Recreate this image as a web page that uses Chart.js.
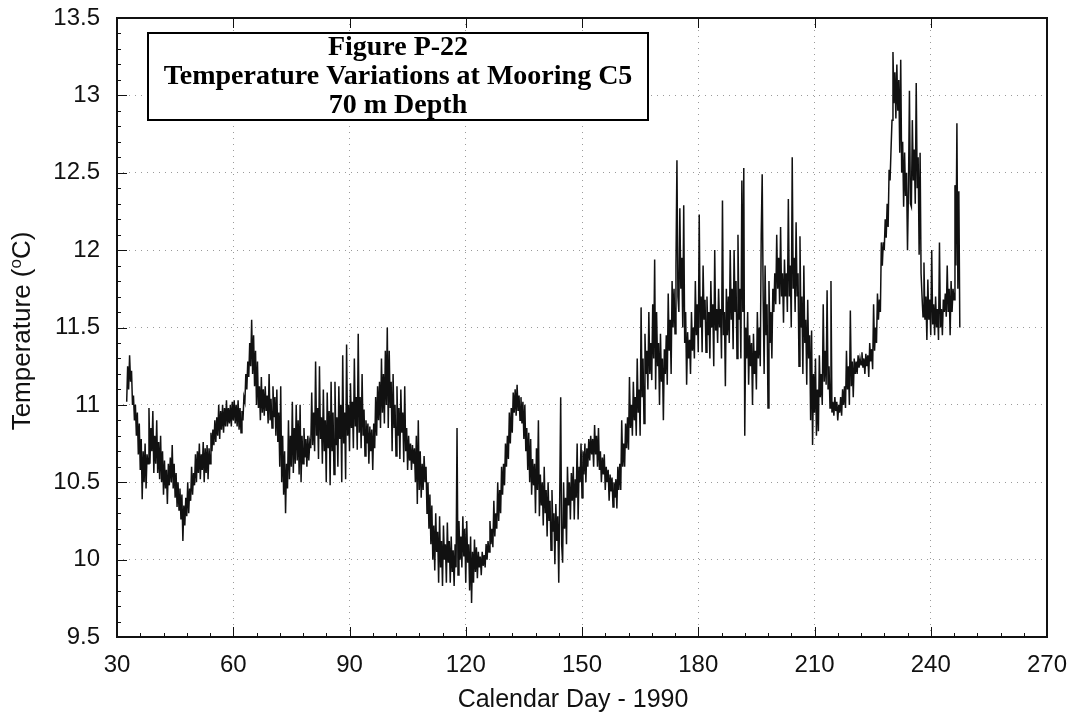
<!DOCTYPE html>
<html>
<head>
<meta charset="utf-8">
<script src="https://cdn.jsdelivr.net/npm/chart.js@4.4.1/dist/chart.umd.min.js"></script>
<style>
  html, body { margin: 0; padding: 0; background: #fff; }
  #wrap { width: 1075px; height: 726px; }
</style>
</head>
<body>
<div id="wrap"><canvas id="tempChart" width="1075" height="726"></canvas></div>
<script>
// Mooring C5, 70 m: quarter-day samples starting on day 32.5 (12 per row = 3 days)
const firstDay = 32.5;
const dayStep = 0.25;
const temps = [
  11.02, 11.25, 11.10, 11.32, 11.15, 11.22, 11.00, 11.06, 10.90, 11.00, 10.80, 10.95,
  10.68, 10.88, 10.58, 10.78, 10.39, 10.70, 10.50, 10.75, 10.46, 10.68, 10.62, 10.98,
  10.62, 10.85, 10.70, 10.96, 10.56, 10.80, 10.62, 10.90, 10.56, 10.76, 10.52, 10.80,
  10.50, 10.70, 10.42, 10.64, 10.46, 10.58, 10.36, 10.62, 10.48, 10.66, 10.50, 10.74,
  10.46, 10.62, 10.40, 10.56, 10.34, 10.50, 10.32, 10.46, 10.26, 10.42, 10.12, 10.35,
  10.22, 10.40, 10.28, 10.50, 10.30, 10.46, 10.38, 10.60, 10.42, 10.56, 10.48, 10.68,
  10.50, 10.70, 10.56, 10.75, 10.52, 10.68, 10.58, 10.76, 10.50, 10.72, 10.56, 10.74,
  10.52, 10.72, 10.62, 10.82, 10.70, 10.84, 10.74, 10.90, 10.76, 10.92, 10.80, 11.00,
  10.78, 10.96, 10.84, 11.00, 10.82, 10.98, 10.86, 11.03, 10.86, 10.98, 10.88, 11.00,
  10.86, 11.02, 10.90, 11.03, 10.88, 11.00, 10.86, 11.03, 10.84, 10.98, 10.82, 10.96,
  10.90, 11.05, 11.02, 11.20, 11.10, 11.28, 11.18, 11.40, 11.25, 11.55, 11.20, 11.45,
  11.12, 11.35, 11.00, 11.28, 10.98, 11.12, 10.90, 11.18, 10.95, 11.10, 10.93, 11.12,
  10.96, 11.06, 10.88, 11.20, 10.90, 11.04, 10.85, 11.12, 10.92, 11.05, 10.80, 11.10,
  10.76, 10.95, 10.60, 11.12, 10.50, 10.80, 10.42, 10.70, 10.30, 10.62, 10.46, 10.90,
  10.52, 10.80, 10.60, 11.02, 10.56, 10.85, 10.62, 11.00, 10.64, 10.90, 10.55, 11.00,
  10.50, 10.80, 10.62, 10.85, 10.66, 10.78, 10.60, 10.80, 10.64, 10.76, 10.72, 11.08,
  10.74, 10.95, 10.70, 11.28, 10.80, 10.98, 10.65, 11.25, 10.78, 10.92, 10.62, 11.10,
  10.70, 10.90, 10.50, 11.08, 10.72, 10.96, 10.48, 11.15, 10.70, 10.95, 10.55, 11.15,
  10.74, 10.92, 10.60, 11.12, 10.78, 11.00, 10.50, 11.32, 10.75, 10.95, 10.52, 11.39,
  10.80, 11.00, 10.70, 11.14, 10.85, 11.02, 10.72, 11.30, 10.86, 11.05, 10.71, 11.46,
  10.82, 11.05, 10.72, 11.20, 10.80, 10.97, 10.67, 10.90, 10.75, 10.88, 10.62, 10.86,
  10.70, 10.84, 10.58, 10.88, 10.72, 11.05, 10.80, 11.12, 10.90, 11.15, 10.85, 11.30,
  10.95, 11.20, 10.88, 11.35, 11.00, 11.50, 10.85, 11.35, 10.98, 11.15, 10.70, 11.20,
  10.85, 11.00, 10.67, 11.12, 10.80, 10.98, 10.65, 11.10, 10.82, 10.95, 10.63, 11.12,
  10.70, 10.85, 10.58, 10.80, 10.64, 10.75, 10.58, 10.74, 10.62, 10.72, 10.50, 10.80,
  10.36, 10.90, 10.45, 10.70, 10.40, 10.62, 10.45, 10.67, 10.50, 10.60, 10.30, 10.50,
  10.20, 10.42, 10.10, 10.35, 10.00, 10.22, 9.93, 10.30, 10.05, 10.18, 9.85, 10.28,
  9.95, 10.12, 9.83, 10.22, 10.00, 10.10, 9.85, 10.24, 9.98, 10.12, 9.85, 10.15,
  9.92, 10.06, 9.83, 10.10, 9.95, 10.85, 9.90, 10.25, 10.00, 10.15, 9.95, 10.28,
  10.02, 10.20, 9.85, 10.25, 9.98, 10.10, 9.80, 10.15, 9.72, 10.05, 9.85, 10.13,
  9.92, 10.08, 9.88, 10.05, 9.95, 10.02, 9.90, 10.05, 9.96, 10.03, 9.95, 10.10,
  10.00, 10.12, 10.05, 10.25, 10.10, 10.20, 10.08, 10.38, 10.15, 10.30, 10.20, 10.50,
  10.25, 10.45, 10.30, 10.60, 10.42, 10.62, 10.48, 10.75, 10.60, 10.80, 10.65, 10.95,
  10.75, 10.98, 10.82, 11.08, 10.95, 11.10, 10.93, 11.13, 10.96, 11.06, 10.90, 11.05,
  10.88, 11.02, 10.78, 11.00, 10.70, 10.85, 10.58, 10.82, 10.50, 10.78, 10.42, 10.65,
  10.48, 10.62, 10.30, 10.72, 10.45, 10.90, 10.28, 10.55, 10.35, 10.50, 10.22, 10.60,
  10.30, 10.45, 10.15, 10.50, 10.25, 10.38, 10.06, 10.45, 10.18, 10.30, 9.97, 10.36,
  10.12, 10.28, 9.85, 10.40, 11.05, 10.10, 9.98, 10.50, 10.20, 10.40, 10.10, 10.60,
  10.35, 10.50, 10.26, 10.56, 10.38, 10.60, 10.26, 10.52, 10.40, 10.75, 10.26, 10.60,
  10.50, 10.75, 10.40, 10.70, 10.55, 10.75, 10.50, 10.72, 10.60, 10.78, 10.64, 10.80,
  10.68, 10.78, 10.60, 10.87, 10.68, 10.80, 10.60, 10.85, 10.58, 10.70, 10.50, 10.66,
  10.55, 10.68, 10.45, 10.60, 10.50, 10.58, 10.38, 10.55, 10.44, 10.53, 10.34, 10.50,
  10.40, 10.52, 10.33, 10.60, 10.45, 10.62, 10.45, 10.90, 10.60, 10.75, 10.60, 10.88,
  10.72, 10.92, 10.71, 11.18, 10.85, 11.00, 10.80, 11.15, 10.90, 11.05, 10.80, 11.30,
  10.95, 11.10, 10.80, 11.63, 11.05, 11.30, 10.88, 11.46, 11.20, 11.35, 11.10, 11.60,
  11.20, 11.40, 11.16, 11.65, 11.30, 11.94, 11.10, 11.60, 11.25, 11.40, 11.00, 11.46,
  11.15, 11.30, 10.90, 11.36, 11.20, 11.45, 11.13, 11.72, 11.35, 11.55, 11.20, 11.80,
  11.50, 11.75, 11.46, 11.90, 12.58, 11.70, 11.60, 12.27, 11.75, 11.95, 11.50, 12.29,
  11.40, 11.60, 11.13, 11.47, 11.30, 11.42, 11.20, 11.60, 11.35, 11.50, 11.30, 11.80,
  11.45, 11.65, 11.34, 12.23, 11.50, 11.70, 11.34, 11.90, 11.55, 11.68, 11.34, 11.70,
  11.45, 11.60, 11.30, 11.80, 11.50, 11.65, 11.25, 12.00, 11.48, 11.62, 11.40, 11.75,
  11.50, 11.62, 11.30, 12.32, 11.45, 11.60, 11.12, 11.75, 11.45, 11.70, 11.40, 12.00,
  11.55, 11.75, 11.36, 12.00, 11.60, 11.80, 11.30, 12.10, 11.55, 11.75, 11.30, 12.45,
  11.60, 12.53, 10.80, 11.50, 11.30, 11.60, 11.13, 11.45, 11.25, 11.40, 11.00, 11.46,
  11.20, 11.35, 11.10, 11.60, 11.30, 11.50, 11.25, 12.10, 12.49, 11.70, 11.20, 11.90,
  11.45, 11.65, 10.98, 11.80, 11.40, 11.60, 11.30, 11.75, 11.60, 11.85, 11.65, 12.10,
  11.75, 11.95, 11.65, 12.15, 11.70, 11.85, 11.53, 11.94, 11.70, 11.85, 11.60, 12.33,
  11.70, 11.90, 11.50, 12.60, 11.75, 11.95, 11.60, 12.18, 11.70, 11.85, 11.25, 12.09,
  11.50, 11.70, 11.20, 11.90, 11.40, 11.55, 11.13, 11.68, 11.30, 11.45, 10.90, 11.48,
  10.74, 11.20, 10.95, 11.30, 10.80, 11.10, 10.83, 11.32, 11.05, 11.20, 11.00, 11.65,
  11.15, 11.35, 11.13, 11.74, 11.10, 11.25, 10.98, 11.80, 10.95, 11.02, 10.93, 11.05,
  10.96, 11.02, 10.90, 11.00, 10.95, 11.05, 10.93, 11.10, 11.00, 11.12, 10.98, 11.35,
  11.10, 11.25, 11.00, 11.61, 11.12, 11.28, 11.05, 11.30, 11.20, 11.28, 11.20, 11.32,
  11.24, 11.30, 11.26, 11.34, 11.24, 11.30, 11.20, 11.33, 11.25, 11.32, 11.18, 11.40,
  11.28, 11.36, 11.23, 11.65, 11.35, 11.50, 11.40, 11.72, 11.55, 11.68, 11.60, 12.05,
  11.90, 12.05, 12.00, 12.20, 12.08, 12.30, 12.15, 12.52, 12.45, 12.65, 12.84, 13.28,
  12.95, 13.15, 12.85, 13.20, 12.90, 13.10, 12.63, 13.23, 12.50, 12.70, 12.28, 12.63,
  12.35, 12.50, 12.00, 12.40, 13.03, 12.30, 12.28, 12.84, 12.45, 12.65, 12.30, 13.08,
  12.40, 12.60, 11.97, 12.63, 11.85, 11.70, 11.57, 11.92, 11.55, 11.70, 11.42, 11.81,
  11.55, 11.68, 11.45, 12.00, 11.52, 11.65, 11.45, 11.70, 11.50, 11.62, 11.42, 12.05,
  11.50, 11.62, 11.45, 11.68, 11.60, 11.72, 11.57, 11.90, 11.60, 11.75, 11.45, 11.80,
  11.60, 11.75, 11.68, 12.42, 11.90, 12.82, 11.75, 12.38, 11.50
];

const xTicks = [30, 60, 90, 120, 150, 180, 210, 240, 270];
const yTicks = [9.5, 10, 10.5, 11, 11.5, 12, 12.5, 13, 13.5];
const xTitle = 'Calendar Day - 1990';
const titleLines = ['Figure P-22', 'Temperature Variations at Mooring C5', '70 m Depth'];

const points = temps.map((t, i) => ({ x: firstDay + i * dayStep, y: t }));

const sansFont = '"Liberation Sans", Arial, sans-serif';
const serifFont = '"Liberation Serif", "Times New Roman", serif';

// frame, inward tick marks, caption box and axis titles
const decorations = {
  id: 'decorations',
  afterDraw(chart) {
    const { ctx, chartArea: a, scales } = chart;
    const xs = scales.x, ys = scales.y;
    ctx.save();
    ctx.strokeStyle = '#111';

    // inward ticks
    ctx.lineWidth = 1;
    ctx.beginPath();
    for (let v = 9.6; v < 13.45; v += 0.1) {
      const y = Math.round(ys.getPixelForValue(v)) + 0.5;
      const major = Math.abs(v * 2 - Math.round(v * 2)) < 0.01;
      ctx.moveTo(a.left, y);
      ctx.lineTo(a.left + (major ? 10 : 4), y);
    }
    for (let d = 36; d < 270; d += 6) {
      const x = Math.round(xs.getPixelForValue(d)) + 0.5;
      const major = d % 30 === 0;
      ctx.moveTo(x, a.bottom);
      ctx.lineTo(x, a.bottom - (major ? 10 : 4));
      if (major) {
        ctx.moveTo(x, a.top);
        ctx.lineTo(x, a.top + 10);
      }
    }
    ctx.stroke();

    // plot frame
    ctx.lineWidth = 2;
    ctx.strokeRect(a.left, a.top, a.right - a.left, a.bottom - a.top);

    // caption box
    const bx = 148, by = 33, bw = 500, bh = 87;
    ctx.fillStyle = '#fff';
    ctx.fillRect(bx, by, bw, bh);
    ctx.strokeStyle = '#000';
    ctx.lineWidth = 2;
    ctx.strokeRect(bx, by, bw, bh);
    ctx.fillStyle = '#000';
    ctx.font = 'bold 28px ' + serifFont;
    ctx.textAlign = 'center';
    ctx.textBaseline = 'middle';
    titleLines.forEach((line, i) => ctx.fillText(line, bx + bw / 2, 48 + i * 29));

    // x axis title
    ctx.fillStyle = '#111';
    ctx.font = '25px ' + sansFont;
    ctx.fillText(xTitle, 573, 700);

    // y axis title with superscript o
    ctx.translate(30, 331);
    ctx.rotate(-Math.PI / 2);
    ctx.textBaseline = 'alphabetic';
    ctx.textAlign = 'left';
    const pre = 'Temperature (', sup = 'o', post = 'C)';
    ctx.font = '26px ' + sansFont;
    const w1 = ctx.measureText(pre).width;
    const w3 = ctx.measureText(post).width;
    ctx.font = '17px ' + sansFont;
    const w2 = ctx.measureText(sup).width;
    const x0 = -(w1 + w2 + w3) / 2;
    ctx.font = '26px ' + sansFont;
    ctx.fillText(pre, x0, 0);
    ctx.font = '17px ' + sansFont;
    ctx.fillText(sup, x0 + w1, -9);
    ctx.font = '26px ' + sansFont;
    ctx.fillText(post, x0 + w1 + w2, 0);
    ctx.restore();
  }
};

new Chart(document.getElementById('tempChart'), {
  type: 'line',
  data: {
    datasets: [{
      data: points,
      borderColor: '#111',
      borderWidth: 1.5,
      pointRadius: 0,
      tension: 0,
      fill: false
    }]
  },
  options: {
    responsive: false,
    animation: false,
    devicePixelRatio: 1,
    layout: { padding: { top: 18, right: 28, left: 0, bottom: 0 } },
    plugins: { legend: { display: false }, tooltip: { enabled: false } },
    scales: {
      x: {
        type: 'linear',
        min: 30,
        max: 270,
        afterBuildTicks: (s) => { s.ticks = xTicks.map(v => ({ value: v })); },
        afterFit: (s) => { s.height = 89; s.paddingLeft = 0; s.paddingRight = 0; },
        grid: { color: '#9a9a9a', lineWidth: 1, drawTicks: false },
        border: { display: false, dash: [1, 5] },
        ticks: { color: '#111', font: { size: 24, family: sansFont }, padding: 14, maxRotation: 0, callback: v => String(v) }
      },
      y: {
        type: 'linear',
        min: 9.5,
        max: 13.5,
        afterBuildTicks: (s) => { s.ticks = yTicks.map(v => ({ value: v })); },
        afterFit: (s) => { s.width = 117; s.paddingTop = 0; s.paddingBottom = 0; },
        grid: { color: '#9a9a9a', lineWidth: 1, drawTicks: false },
        border: { display: false, dash: [1, 5] },
        ticks: { color: '#111', font: { size: 24, family: sansFont }, padding: 17, callback: v => String(v) }
      }
    }
  },
  plugins: [decorations]
});
</script>
</body>
</html>
